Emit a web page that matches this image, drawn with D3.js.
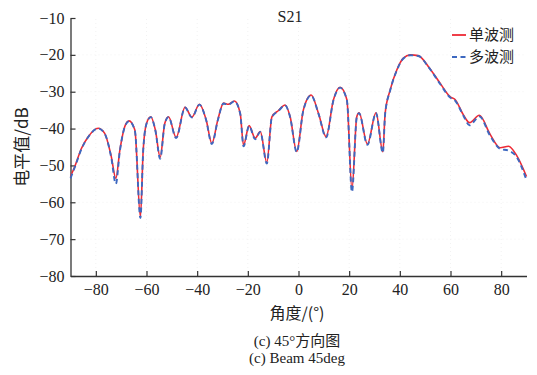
<!DOCTYPE html>
<html>
<head>
<meta charset="utf-8">
<script src="https://cdn.jsdelivr.net/npm/d3@7"></script>
<style>
  body { margin: 0; background: #fff; }
  svg { display: block; }
</style>
</head>
<body>
<svg id="chart"></svg>
<script>
// angle (deg) and level (dB)
const angles = [-90, -88.3, -85.7, -83, -79.1, -76.5, -73.9, -72.1, -70.5, -68.6, -66.9, -64.6, -62.4, -61.3, -60,
  -58.3, -56.5, -54.6, -52.8, -51.3, -48.3, -44.8, -42.1, -39.1, -36.5, -34.2, -31.8, -29.6, -27.7, -25.3, -23,
  -21.7, -19.5, -17.1, -15.1, -12.5, -10.5, -7.9, -5.3, -3.3, -0.7, 1.9, 5, 7.9, 10.9, 13.8, 16.4, 19.1, 21.1,
  23, 23.9, 27.2, 30.6, 33.3, 34.2, 36.2, 38.8, 41.4, 44.1, 47.3, 51.3, 55.9, 59.9, 61.8, 65.1, 67.5, 71.4,
  75.6, 79.6, 82.9, 86.2, 90];
const single = [-53, -50.3, -45.4, -42.2, -39.9, -41.3, -47.6, -53.5, -45.8, -39.5, -37.9, -40.4, -64, -45.8, -38.6,
  -36.8, -40.4, -47.8, -38.6, -36.8, -42.4, -34.2, -36.9, -33.4, -37.5, -44, -37.5, -33.1, -33.4, -32.5, -35.9,
  -44.5, -39.2, -42.6, -40.8, -49.2, -36.8, -35.1, -33.6, -36.8, -46.2, -35, -30.9, -35.9, -42.2, -32.2, -28.8, -32.2, -56.5,
  -36.8, -35.7, -44.2, -35.7, -46.3, -35.9, -29.5, -24.1, -20.9, -20, -20.2, -23.2, -27.7, -31.4, -32.1, -36.3, -38.4, -36.4,
  -41.5, -45.2, -44.8, -47.4, -53];
const multi = [-53.5, -50.5, -45.6, -42.3, -40, -41.4, -47.9, -55, -46, -39.6, -38, -40.5, -64.3, -46, -38.7,
  -36.9, -40.5, -48.2, -38.7, -36.9, -42.6, -34.3, -37, -33.5, -37.6, -44.2, -37.6, -33.2, -33.5, -32.6, -36,
  -44.8, -39.3, -42.9, -40.9, -49.5, -36.9, -35.2, -33.7, -36.9, -46.4, -35.1, -31, -36, -42.4, -32.3, -28.9, -32.3, -57.2,
  -36.9, -35.8, -44.4, -35.8, -46.6, -36, -29.6, -24.2, -21, -20.1, -20.3, -23.3, -27.9, -31.6, -32.4, -36.5, -39.1, -36.7,
  -41.9, -45.5, -46, -47.8, -54];
const xTicks = [-80, -60, -40, -20, 0, 20, 40, 60, 80];
const yTicks = [-10, -20, -30, -40, -50, -60, -70, -80];
const seriesNames = ["单波测", "多波测"];

const W = 537, H = 375;
const svg = d3.select("#chart").attr("width", W).attr("height", H);

const x = d3.scaleLinear().domain([-90, 90]).range([70.5, 526.5]);
const y = d3.scaleLinear().domain([-80, -10]).range([276, 18]);

const fmt = d => d < 0 ? "\u2212" + Math.abs(d) : String(d);

// faint grid
svg.append("g").selectAll("line").data(yTicks.slice(1, -1)).join("line")
  .attr("x1", x(-90)).attr("x2", x(90))
  .attr("y1", d => y(d)).attr("y2", d => y(d))
  .attr("stroke", "#f2f2f2").attr("stroke-dasharray", "1,3");
svg.append("g").selectAll("line").data(xTicks).join("line")
  .attr("y1", y(-80)).attr("y2", y(-10))
  .attr("x1", d => x(d)).attr("x2", d => x(d))
  .attr("stroke", "#f2f2f2").attr("stroke-dasharray", "1,3");

const gx = svg.append("g")
  .attr("transform", `translate(0,${y(-80)})`)
  .call(d3.axisBottom(x).tickValues(xTicks).tickFormat(fmt).tickSizeInner(-5).tickSizeOuter(0).tickPadding(8));
const gy = svg.append("g")
  .attr("transform", `translate(${x(-90)},0)`)
  .call(d3.axisLeft(y).tickValues(yTicks).tickFormat(fmt).tickSizeInner(-5).tickSizeOuter(0).tickPadding(6));
[gx, gy].forEach(g => {
  g.attr("font-family", "Liberation Serif, serif").attr("font-size", 16);
  g.selectAll(".tick text").attr("fill", "#222");
  g.select(".domain").attr("stroke", "#333").attr("stroke-width", 1.3);
  g.selectAll(".tick line").attr("stroke", "#333").attr("stroke-width", 1.2);
});

const line = vals => d3.line()
  .x((d, i) => x(angles[i]))
  .y(d => y(d))
  .curve(d3.curveMonotoneX)(vals);

svg.append("path").attr("d", line(single))
  .attr("fill", "none").attr("stroke", "#ee2a35").attr("stroke-width", 1.6);
svg.append("path").attr("d", line(multi))
  .attr("fill", "none").attr("stroke", "#3d68c0").attr("stroke-width", 1.9)
  .attr("stroke-dasharray", "5,3.5");

// title
svg.append("text").attr("x", 290).attr("y", 22).attr("text-anchor", "middle")
  .attr("font-family", "Liberation Serif, serif").attr("font-size", 16).attr("fill", "#222").text("S21");

// legend
const lg = svg.append("g");
[["#ee2a35", null, 35], ["#3d68c0", "5,3.5", 57]].forEach(([c, dash, ly], i) => {
  lg.append("line").attr("x1", 452).attr("x2", 466).attr("y1", ly).attr("y2", ly)
    .attr("stroke", c).attr("stroke-width", 1.8).attr("stroke-dasharray", dash);
  lg.append("text").attr("x", 469).attr("y", ly).attr("dy", "0.35em")
    .attr("font-family", "Noto Sans CJK SC").attr("font-size", 15).attr("fill", "#222")
    .text(seriesNames[i]);
});

// axis titles and caption
svg.append("text").attr("transform", `translate(22,${(y(-10) + y(-80)) / 2}) rotate(-90)`)
  .attr("text-anchor", "middle").attr("dy", "0.35em")
  .attr("font-family", "Noto Sans CJK SC").attr("font-size", 17).attr("fill", "#222")
  .text("电平值/dB");
svg.append("text").attr("x", 297).attr("y", 313).attr("text-anchor", "middle").attr("dy", "0.35em")
  .attr("font-family", "Noto Sans CJK SC").attr("font-size", 16).attr("fill", "#222")
  .text("角度/(°)");
svg.append("text").attr("x", 297).attr("y", 341).attr("text-anchor", "middle").attr("dy", "0.35em")
  .attr("font-family", "Liberation Serif, Noto Sans CJK SC").attr("font-size", 15).attr("fill", "#222")
  .text("(c) 45°方向图");
svg.append("text").attr("x", 297).attr("y", 358).attr("text-anchor", "middle").attr("dy", "0.35em")
  .attr("font-family", "Liberation Serif, serif").attr("font-size", 15).attr("fill", "#222")
  .text("(c) Beam 45deg");
</script>
</body>
</html>
